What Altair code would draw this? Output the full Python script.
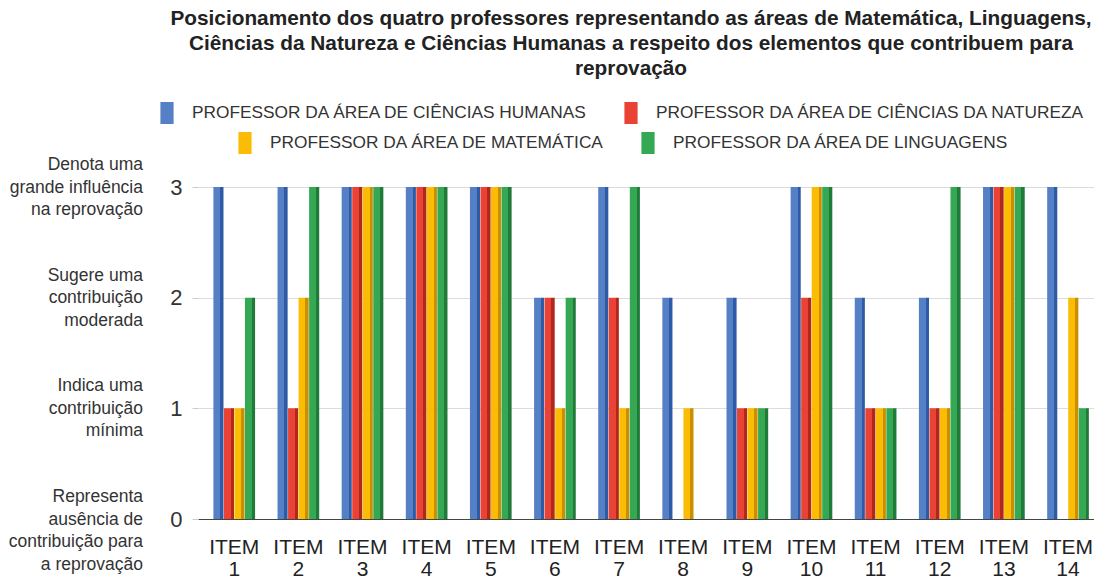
import altair as alt
import pandas as pd

items = [f"ITEM {i}" for i in range(1, 15)]
series = [
    "PROFESSOR DA ÁREA DE CIÊNCIAS HUMANAS",
    "PROFESSOR DA ÁREA DE CIÊNCIAS DA NATUREZA",
    "PROFESSOR DA ÁREA DE MATEMÁTICA",
    "PROFESSOR DA ÁREA DE LINGUAGENS",
]
humanas = [3, 3, 3, 3, 3, 2, 3, 2, 2, 3, 2, 2, 3, 3]
natureza = [1, 1, 3, 3, 3, 2, 2, 0, 1, 2, 1, 1, 3, 0]
matematica = [1, 2, 3, 3, 3, 1, 1, 1, 1, 3, 1, 1, 3, 2]
linguagens = [2, 3, 3, 3, 3, 2, 3, 0, 1, 3, 1, 3, 3, 1]

levels = [0, 1, 2, 3]
level_desc = [
    "Representa\nausência de\ncontribuição para\na reprovação",
    "Indica uma\ncontribuição\nmínima",
    "Sugere uma\ncontribuição\nmoderada",
    "Denota uma\ngrande influência\nna reprovação",
]
title_lines = [
    "Posicionamento dos quatro professores representando as áreas de Matemática, Linguagens,",
    "Ciências da Natureza e Ciências Humanas a respeito dos elementos que contribuem para",
    "reprovação",
]

colors = ["#5580c6", "#ea4335", "#fbbc05", "#34a853"]
dark = ["#2f5aa6", "#b0281c", "#c98f00", "#217a3a"]

FONT = "Liberation Sans"

rows = []
for s, vals in zip(series, [humanas, natureza, matematica, linguagens]):
    for it, v in zip(items, vals):
        rows.append({"item": it, "serie": s, "valor": v})
df = pd.DataFrame(rows)
desc_df = pd.DataFrame({"nivel": levels, "texto": level_desc})

x_enc = alt.X(
    "item:N",
    sort=items,
    title=None,
    scale=alt.Scale(paddingInner=0.35, paddingOuter=0.16, align=0.75, round=False),
    axis=alt.Axis(
        labelAngle=0,
        labelExpr="split(datum.label, ' ')",
        labelFontSize=21,
        labelLineHeight=22.5,
        labelPadding=17,
        labelFont=FONT,
        labelColor="#222222",
        ticks=False,
        grid=False,
        domainColor="#444444",
        domainWidth=1.2,
    ),
)
xo_enc = alt.XOffset("serie:N", sort=series, scale=alt.Scale(domain=series, paddingInner=0.04, round=False))
y_enc = alt.Y(
    "valor:Q",
    title=None,
    scale=alt.Scale(domain=[0, 3]),
    axis=alt.Axis(
        values=levels,
        format="d",
        labelFontSize=22,
        labelFont=FONT,
        labelColor="#333333",
        labelPadding=10,
        domain=False,
        tickColor="#cccccc",
        tickSize=6,
        gridColor="#dcdcdc",
    ),
)

base = alt.Chart(df).encode(x=x_enc, xOffset=xo_enc, y=y_enc)

layers = []
for s, c, d in zip(series, colors, dark):
    grad = alt.LinearGradient(
        gradient="linear",
        x1=0, x2=1, y1=0, y2=0,
        stops=[
            alt.GradientStop(offset=0, color=c),
            alt.GradientStop(offset=0.68, color=c),
            alt.GradientStop(offset=0.68, color=d),
            alt.GradientStop(offset=1, color=d),
        ],
    )
    layers.append(base.transform_filter(alt.datum.serie == s).mark_bar(color=grad))

sym = "M-0.6,-1H0.6V1H-0.6Z"


def legend_layer(doms, cols, lx, ly):
    return (
        base.transform_filter(alt.FieldOneOfPredicate(field="serie", oneOf=doms))
        .mark_bar(opacity=0)
        .encode(
            color=alt.Color(
                "serie:N",
                scale=alt.Scale(domain=doms, range=cols),
                legend=alt.Legend(
                    title=None,
                    orient="none",
                    legendX=lx,
                    legendY=ly,
                    direction="horizontal",
                    symbolType=sym,
                    symbolSize=484,
                    symbolOpacity=1,
                    symbolStrokeWidth=0,
                    labelFontSize=17.3,
                    labelFont=FONT,
                    labelColor="#333333",
                    labelLimit=0,
                    labelOffset=14,
                    columnPadding=32,
                    padding=0,
                ),
            )
        )
    )


leg1 = legend_layer(series[:2], colors[:2], -42, -85)
leg2 = legend_layer(series[2:], colors[2:], 36, -55)

desc = (
    alt.Chart(desc_df)
    .mark_text(align="right", baseline="middle", fontSize=17.5, font=FONT, color="#333333",
               lineBreak="\n", lineHeight=22.5, dy=-22)
    .encode(y=alt.Y("nivel:Q"), x=alt.value(-55), text="texto:N")
)

chart = (
    alt.layer(*layers, leg1, leg2, desc)
    .resolve_scale(color="independent")
    .properties(
        width=896,
        height=332,
        padding={"left": 0, "top": 0, "right": 0, "bottom": 0},
        title=alt.TitleParams(
            text=title_lines,
            fontSize=20.8,
            font=FONT,
            fontWeight="bold",
            color="#222222",
            lineHeight=25,
            anchor="middle",
            frame="group",
            dx=-15,
            offset=22,
        ),
    )
    .configure_view(stroke=None)
)

chart.save("out.html", embed_options={"renderer": "svg", "actions": False})
